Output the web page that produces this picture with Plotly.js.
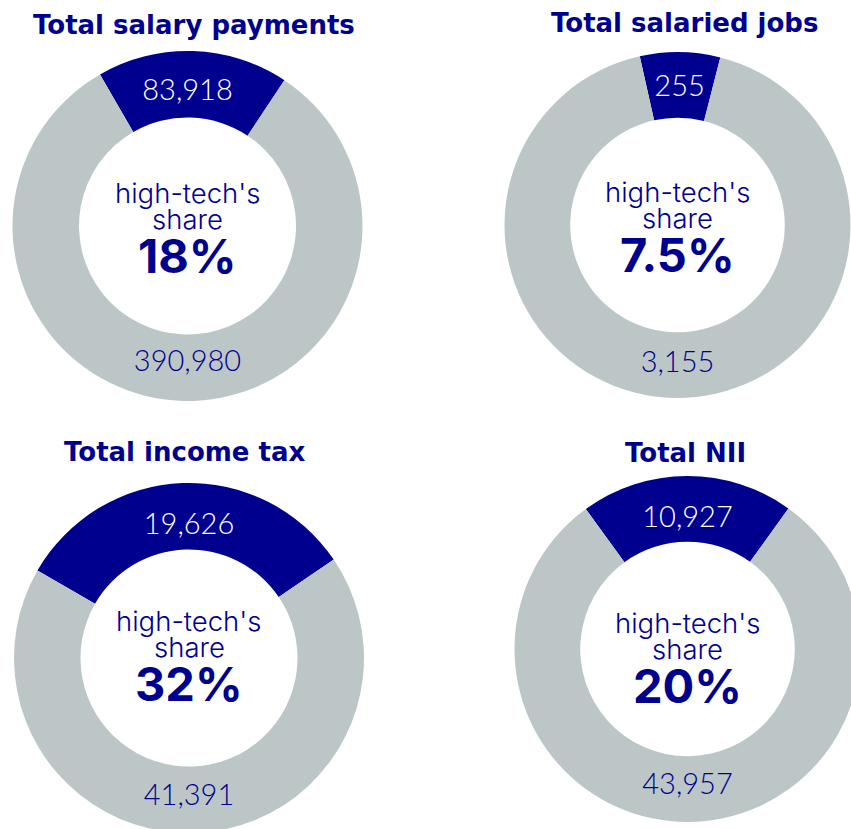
<!DOCTYPE html>
<html>
<head>
<meta charset="utf-8">
<script src="https://cdn.plot.ly/plotly-3.0.1.min.js"></script>
<style>
  html, body { margin: 0; padding: 0; background: #ffffff; overflow: hidden; }
  #chart { width: 900px; height: 860px; }
</style>
</head>
<body>
<div id="chart"></div>
<script>
// ---- data ----
const titles = ['Total salary payments', 'Total salaried jobs', 'Total income tax', 'Total NII'];
const sliceLabels = ['High-tech', 'Rest of economy'];
const highTech = [83918, 255, 19626, 10927];
const rest = [390980, 3155, 41391, 43957];
const shares = ['18%', '7.5%', '32%', '20%'];
const centerLines = ["high-tech's", 'share'];

// ---- layout / style ----
const W = 900, H = 860;
const NAVY = '#00008f';
const GRAY = '#bdc6c6';
const geo = [
  { cx: 187.5, cy: 226, r: 175, rot: -30,   tdx: 6,    tdy: 201, cdy: 0 },
  { cx: 677.5, cy: 225, r: 173, rot: -12.6, tdx: 6.5,  tdy: 202, cdy: 0 },
  { cx: 189,   cy: 658, r: 175, rot: -60,   tdx: -4,   tdy: 206, cdy: -4 },
  { cx: 687.5, cy: 649, r: 173, rot: -36,   tdx: -2.5, tdy: 196, cdy: 7 }
];

const traces = [];
const annotations = [];
titles.forEach((t, i) => {
  const g = geo[i];
  const dom = {
    x: [(g.cx - g.r) / W, (g.cx + g.r) / W],
    y: [1 - (g.cy + g.r) / H, 1 - (g.cy - g.r) / H]
  };
  traces.push({
    type: 'pie',
    labels: sliceLabels,
    values: [highTech[i], rest[i]],
    domain: dom,
    hole: 0.62,
    sort: false,
    direction: 'clockwise',
    rotation: g.rot,
    marker: { colors: [NAVY, GRAY], line: { width: 0 } },
    texttemplate: '%{value:,}',
    textposition: 'inside',
    insidetextorientation: 'horizontal',
    textfont: { family: 'Lato, sans-serif', size: 29, weight: 300, color: ['#ffffff', NAVY] },
    hoverinfo: 'none',
    showlegend: false
  });
  const mx = (dom.x[0] + dom.x[1]) / 2;
  const my = (dom.y[0] + dom.y[1]) / 2;
  annotations.push({
    xref: 'paper', yref: 'paper', x: mx, y: my, xshift: g.tdx, yshift: g.tdy,
    text: t, showarrow: false, xanchor: 'center', yanchor: 'middle',
    font: { family: '"DejaVu Sans", sans-serif', size: 26, weight: 700, color: NAVY }
  });
  annotations.push({
    xref: 'paper', yref: 'paper', x: mx, y: my, yshift: 33 - g.cdy,
    text: centerLines[0], showarrow: false, xanchor: 'center', yanchor: 'middle',
    font: { family: 'Inter, sans-serif', size: 27.5, weight: 300, color: NAVY }
  });
  annotations.push({
    xref: 'paper', yref: 'paper', x: mx, y: my, yshift: 7 - g.cdy,
    text: centerLines[1], showarrow: false, xanchor: 'center', yanchor: 'middle',
    font: { family: 'Inter, sans-serif', size: 27.5, weight: 300, color: NAVY }
  });
  annotations.push({
    xref: 'paper', yref: 'paper', x: mx, y: my, yshift: -29 - g.cdy,
    text: shares[i], showarrow: false, xanchor: 'center', yanchor: 'middle',
    font: { family: 'Inter, sans-serif', size: 47, weight: 700, color: NAVY }
  });
});

const layout = {
  width: W, height: H,
  margin: { l: 0, r: 0, t: 0, b: 0, pad: 0 },
  paper_bgcolor: '#ffffff',
  plot_bgcolor: '#ffffff',
  showlegend: false,
  annotations: annotations
};

Plotly.newPlot('chart', traces, layout, { staticPlot: true, displayModeBar: false });
</script>
</body>
</html>
